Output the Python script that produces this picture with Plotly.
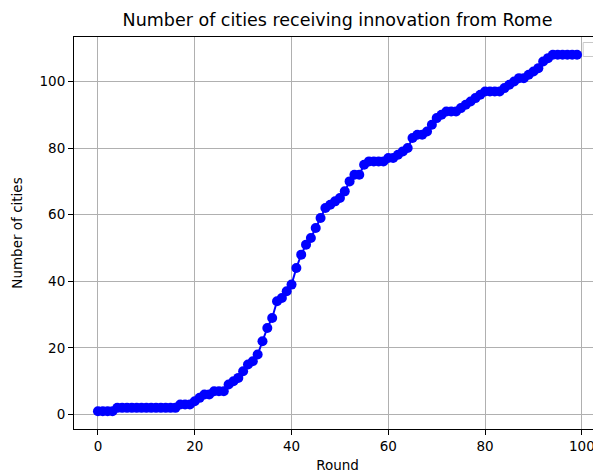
import plotly.graph_objects as go

rounds = list(range(100))
cities = [
    1, 1, 1, 1, 2, 2, 2, 2, 2, 2,
    2, 2, 2, 2, 2, 2, 2, 3, 3, 3,
    4, 5, 6, 6, 7, 7, 7, 9, 10, 11,
    13, 15, 16, 18, 22, 26, 29, 34, 35, 37,
    39, 44, 48, 51, 53, 56, 59, 62, 63, 64,
    65, 67, 70, 72, 72, 75, 76, 76, 76, 76,
    77, 77, 78, 79, 80, 83, 84, 84, 85, 87,
    89, 90, 91, 91, 91, 92, 93, 94, 95, 96,
    97, 97, 97, 97, 98, 99, 100, 101, 101, 102,
    103, 104, 106, 107, 108, 108, 108, 108, 108, 108,
]
x_ticks = [0, 20, 40, 60, 80, 100]
y_ticks = [0, 20, 40, 60, 80, 100]

# the page body has an 8px default margin, so the figure is sized to fit
OFF = 8
W, H = 601 - OFF, 473 - OFF
L, T = 74.4 - OFF, 36.5 - OFF
R = W - (600.8 - OFF)
B = H - (429 - OFF)

fig = go.Figure()
fig.add_trace(go.Scatter(
    x=rounds, y=cities, mode="lines+markers",
    line=dict(color="#0000ff", width=2),
    marker=dict(color="#0000ff", size=10),
    showlegend=False,
))

xmin, xmax = min(rounds), max(rounds)
ymin, ymax = min(cities), max(cities)
xpad = 0.05 * (xmax - xmin)
ypad = 0.05 * (ymax - ymin)

axis_common = dict(
    showline=True, linecolor="black", linewidth=1, mirror=True,
    ticks="outside", ticklen=5, tickcolor="black", tickwidth=1,
    showgrid=True, gridcolor="#b0b0b0", gridwidth=1, zeroline=False,
    tickfont=dict(size=13.5, color="black"), automargin=False,
)

fig.update_layout(
    width=W, height=H,
    margin=dict(l=L, r=R, t=T, b=B, pad=0),
    paper_bgcolor="white", plot_bgcolor="white",
    font=dict(family="DejaVu Sans", color="black"),
    title=dict(text="Number of cities receiving innovation from Rome",
               x=0.5, xref="paper", xanchor="center",
               y=1 - (20 - OFF) / H, yref="container", yanchor="middle",
               font=dict(size=17.5, color="black"), automargin=False),
    xaxis=dict(range=[xmin - xpad, xmax + xpad], tickvals=x_ticks,
               title=dict(text="Round", font=dict(size=13.5), standoff=9),
               **axis_common),
    yaxis=dict(range=[ymin - ypad, ymax + ypad], tickvals=y_ticks,
               title=dict(text="Number of cities", font=dict(size=13.5), standoff=13),
               **axis_common),
)

# empty legend frame (upper right)
pw, ph = W - L - R, H - T - B
fig.add_shape(type="rect", xref="paper", yref="paper",
              x0=(583 - OFF - L) / pw, x1=(594 - OFF - L) / pw,
              y0=1 - (56 - OFF - T) / ph, y1=1 - (42 - OFF - T) / ph,
              line=dict(color="#c8c8c8", width=1), fillcolor="white", layer="above")

fig.write_html("out.html")
